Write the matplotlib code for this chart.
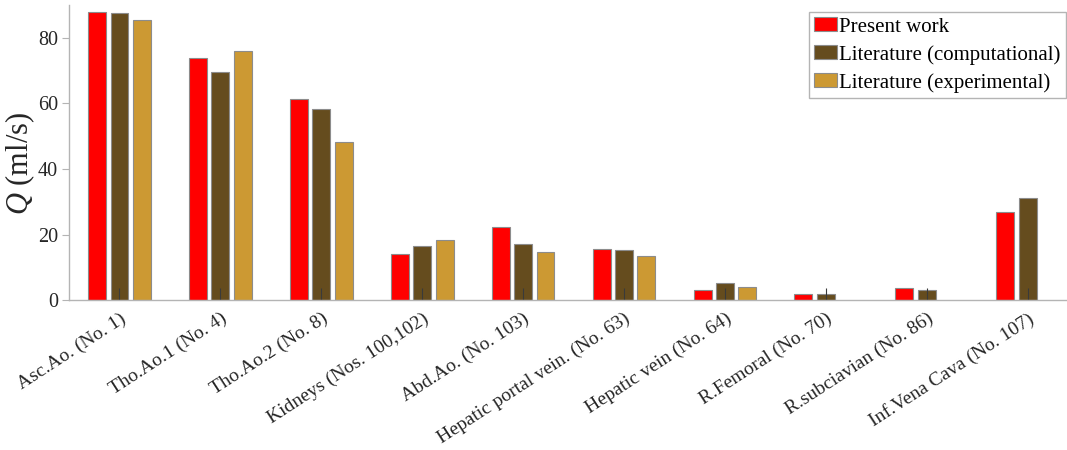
import matplotlib.pyplot as plt
import matplotlib.transforms as mtransforms
import numpy as np

# --------------------------------------------------------------------------------

plt.rcParams['font.family'] = ['Liberation Serif', 'DejaVu Serif']
plt.rcParams['mathtext.fontset'] = 'custom'
plt.rcParams['mathtext.rm'] = 'Liberation Serif'
plt.rcParams['mathtext.it'] = 'Liberation Serif:italic'

vessels = ['Asc.Ao. (No. 1)', 'Tho.Ao.1 (No. 4)', 'Tho.Ao.2 (No. 8)',
           'Kidneys (Nos. 100,102)', 'Abd.Ao. (No. 103)',
           'Hepatic portal vein. (No. 63)', 'Hepatic vein (No. 64)',
           'R.Femoral (No. 70)', 'R.subciavian (No. 86)',
           'Inf.Vena Cava (No. 107)']

present = [87.8, 73.7, 61.2, 14.1, 22.4, 15.5, 3.1, 2.0, 3.6, 26.8]
lit_comp = [87.5, 69.7, 58.4, 16.5, 17.0, 15.3, 5.3, 2.0, 3.1, 31.0]
lit_exp = [85.4, 76.1, 48.3, 18.3, 14.8, 13.4, 3.9, np.nan, np.nan, np.nan]

series = [('Present work', present, '#FF0000'),
          ('Literature (computational)', lit_comp, '#654C1E'),
          ('Literature (experimental)', lit_exp, '#CC9933')]

# --------------------------------------------------------------------------------

fig = plt.figure(figsize=(10.67, 4.5), dpi=100)
ax = fig.add_axes([0.0647, 0.333, 0.9353, 0.656])

x = np.arange(1, len(vessels) + 1)
step = 0.222
width = 0.178

for i, (name, vals, col) in enumerate(series):
    ax.bar(x + (i - 1) * step, vals, width, color=col, edgecolor='#8c8c8c',
           linewidth=0.8, label=name)

ax.set_xlim(0.5, 10.39)
ax.set_ylim(0, 90)
ax.set_yticks([0, 20, 40, 60, 80])
ax.set_xticks(x)
ax.set_xticklabels(vessels, rotation=33, ha='right', va='top',
                   rotation_mode='anchor')

# nudge the slanted labels a little to the right
shift = mtransforms.ScaledTranslation(5 / 100, 0, fig.dpi_scale_trans)
for lab in ax.get_xticklabels():
    lab.set_transform(lab.get_transform() + shift)

for s in ['top', 'right']:
    ax.spines[s].set_visible(False)
for s in ['left', 'bottom']:
    ax.spines[s].set_color('#b4b4b4')
    ax.spines[s].set_linewidth(1.0)

ax.tick_params(axis='x', direction='in', length=9, width=0.8,
               color='#3a3a3a', labelsize=14, labelcolor='#262626', pad=7)
ax.tick_params(axis='y', direction='out', length=5, width=0.8,
               color='#b4b4b4', labelsize=14.5, labelcolor='#262626', pad=3)

ax.set_ylabel(r'$Q$ (ml/s)', fontsize=22, color='#262626')
ax.yaxis.set_label_coords(-0.032, 0.464)

leg = ax.legend(loc='upper right', bbox_to_anchor=(0.999, 0.976),
                fontsize=15, fancybox=False,
                edgecolor='#b4b4b4', framealpha=1, borderpad=0.25,
                borderaxespad=0, handlelength=1.1, handleheight=0.65,
                handletextpad=0.1, labelspacing=0.4)
leg.get_frame().set_linewidth(1.0)

fig.savefig('out.png', dpi=100)
